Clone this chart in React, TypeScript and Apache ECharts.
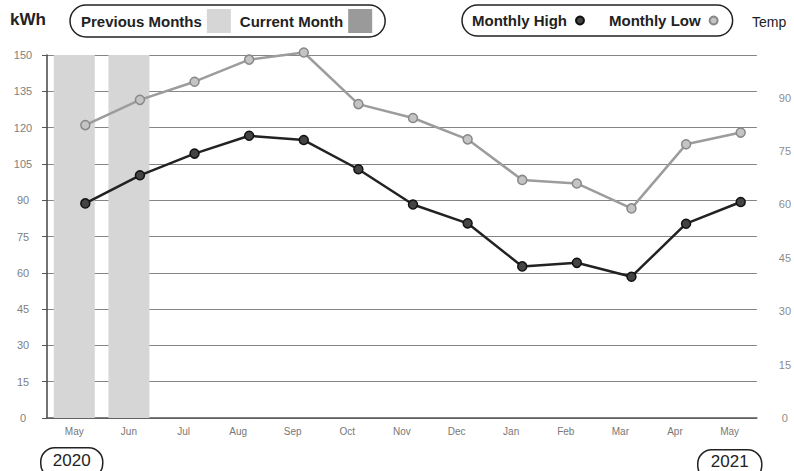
import React, { useEffect, useRef } from "react";
import * as echarts from "echarts";

const months = ["May", "Jun", "Jul", "Aug", "Sep", "Oct", "Nov", "Dec", "Jan", "Feb", "Mar", "Apr", "May"];
const previousMonths = [150, 150, null, null, null, null, null, null, null, null, null, null, null];
const currentMonth = [null, null, null, null, null, null, null, null, null, null, null, null, null];
const monthlyHigh = [60.3, 68.2, 74.3, 79.3, 78.1, 69.9, 60.0, 54.7, 42.6, 43.6, 39.7, 54.6, 60.7];
const monthlyLow = [82.3, 89.4, 94.5, 100.7, 102.7, 88.2, 84.3, 78.3, 66.9, 65.9, 58.9, 76.9, 80.2];
const yearLabels = ["2020", "2021"];

const SANS = "'Liberation Sans', Arial, sans-serif";
const LEG = "'Liberation Sans', Arial, sans-serif";

export default function App() {
  const ref = useRef<HTMLDivElement>(null);
  useEffect(() => {
    document.body.style.margin = "0";
    if (!ref.current) return;
    const chart = echarts.init(ref.current, null, { renderer: "svg" });
    const option: any = {
      animation: false,
      backgroundColor: "#ffffff",
      grid: [
        { left: 47, right: 37, top: 55, bottom: 53 },
        { left: 58, right: 26, top: 55, bottom: 53 },
      ],
      legend: [
        {
          data: ["Previous Months", "Current Month"],
          left: 70,
          top: 5,
          align: "right",
          icon: "rect",
          itemWidth: 24,
          itemHeight: 24,
          itemGap: 9,
          padding: [4, 13, 4, 11],
          borderColor: "#222",
          borderWidth: 1.5,
          borderRadius: 17,
          textStyle: { fontFamily: LEG, fontWeight: "bold", fontSize: 15, color: "#222" },
          selectedMode: false,
        },
        {
          data: ["Monthly High", "Monthly Low"],
          left: 462,
          top: 5,
          align: "right",
          icon: "circle",
          itemWidth: 8,
          itemHeight: 8,
          itemGap: 24,
          padding: [8, 14, 8, 10],
          borderColor: "#222",
          borderWidth: 1.5,
          borderRadius: 17,
          textStyle: { fontFamily: LEG, fontWeight: "bold", fontSize: 15, color: "#222", padding: [0, 4, 0, 0] },
          selectedMode: false,
        },
      ],
      xAxis: [
        {
          type: "category",
          gridIndex: 0,
          data: months,
          boundaryGap: true,
          axisLine: { lineStyle: { color: "#555", width: 1.5 } },
          axisTick: { alignWithLabel: true, length: 4, lineStyle: { color: "#777" } },
          axisLabel: { color: "#777", fontSize: 10, fontFamily: SANS, margin: 8 },
        },
        {
          type: "category",
          gridIndex: 1,
          data: months,
          boundaryGap: true,
          show: false,
        },
      ],
      yAxis: [
        {
          type: "value",
          gridIndex: 0,
          min: 0,
          max: 150,
          interval: 15,
          axisLine: { show: true, lineStyle: { color: "#444", width: 1.5 } },
          axisTick: { show: true, length: 5, lineStyle: { color: "#555" } },
          axisLabel: { color: "#808080", fontSize: 11, fontFamily: SANS, align: "center", margin: 24 },
          splitLine: { lineStyle: { color: "#858585", width: 1.2 } },
        },
        {
          type: "value",
          gridIndex: 0,
          position: "right",
          min: 0,
          max: 102,
          interval: 15,
          axisLine: { show: false },
          axisTick: { show: false },
          splitLine: { show: false },
          axisLabel: {
            color: "#8c8c8c",
            fontSize: 11,
            fontFamily: SANS,
            align: "center",
            margin: 28,
            formatter: (v: number) => (v > 95 ? "" : String(v)),
          },
        },
        {
          type: "value",
          gridIndex: 1,
          min: 0,
          max: 102,
          show: false,
        },
      ],
      series: [
        {
          name: "Previous Months",
          type: "bar",
          xAxisIndex: 0,
          yAxisIndex: 0,
          data: previousMonths,
          barWidth: 41,
          barGap: "-100%",
          itemStyle: { color: "#d6d6d6" },
        },
        {
          name: "Current Month",
          type: "bar",
          xAxisIndex: 0,
          yAxisIndex: 0,
          data: currentMonth,
          barWidth: 41,
          itemStyle: { color: "#9a9a9a" },
        },
        {
          name: "Monthly High",
          type: "line",
          xAxisIndex: 1,
          yAxisIndex: 2,
          data: monthlyHigh,
          clip: false,
          symbol: "circle",
          symbolSize: 9,
          lineStyle: { color: "#222", width: 2.5 },
          itemStyle: { color: "#444", borderColor: "#111", borderWidth: 1.5 },
          z: 5,
        },
        {
          name: "Monthly Low",
          type: "line",
          xAxisIndex: 1,
          yAxisIndex: 2,
          data: monthlyLow,
          clip: false,
          symbol: "circle",
          symbolSize: 9,
          lineStyle: { color: "#9c9c9c", width: 2.5 },
          itemStyle: { color: "#c4c4c4", borderColor: "#888", borderWidth: 1.5 },
          z: 4,
        },
      ],
      graphic: [
        {
          type: "text",
          left: 10,
          top: 11,
          style: { text: "kWh", fontFamily: SANS, fontWeight: "bold", fontSize: 17, fill: "#222" },
        },
        {
          type: "text",
          left: 752,
          top: 15,
          style: { text: "Temp", fontFamily: SANS, fontSize: 14, fill: "#222" },
        },
        {
          type: "group",
          left: 40,
          top: 447,
          children: [
            {
              type: "rect",
              shape: { x: 0, y: 0, width: 62, height: 30, r: 14 },
              style: { fill: "#fff", stroke: "#222", lineWidth: 1.5 },
            },
            {
              type: "text",
              x: 31,
              y: 13,
              style: { text: yearLabels[0], fontFamily: SANS, fontSize: 17, fill: "#222", align: "center", verticalAlign: "middle" },
            },
          ],
        },
        {
          type: "group",
          left: 697,
          top: 449,
          children: [
            {
              type: "rect",
              shape: { x: 0, y: 0, width: 64, height: 30, r: 14 },
              style: { fill: "#fff", stroke: "#222", lineWidth: 1.5 },
            },
            {
              type: "text",
              x: 32,
              y: 12,
              style: { text: yearLabels[1], fontFamily: SANS, fontSize: 17, fill: "#222", align: "center", verticalAlign: "middle" },
            },
          ],
        },
      ],
    };
    chart.setOption(option);
    return () => chart.dispose();
  }, []);
  return <div ref={ref} style={{ width: 794, height: 471 }} />;
}
